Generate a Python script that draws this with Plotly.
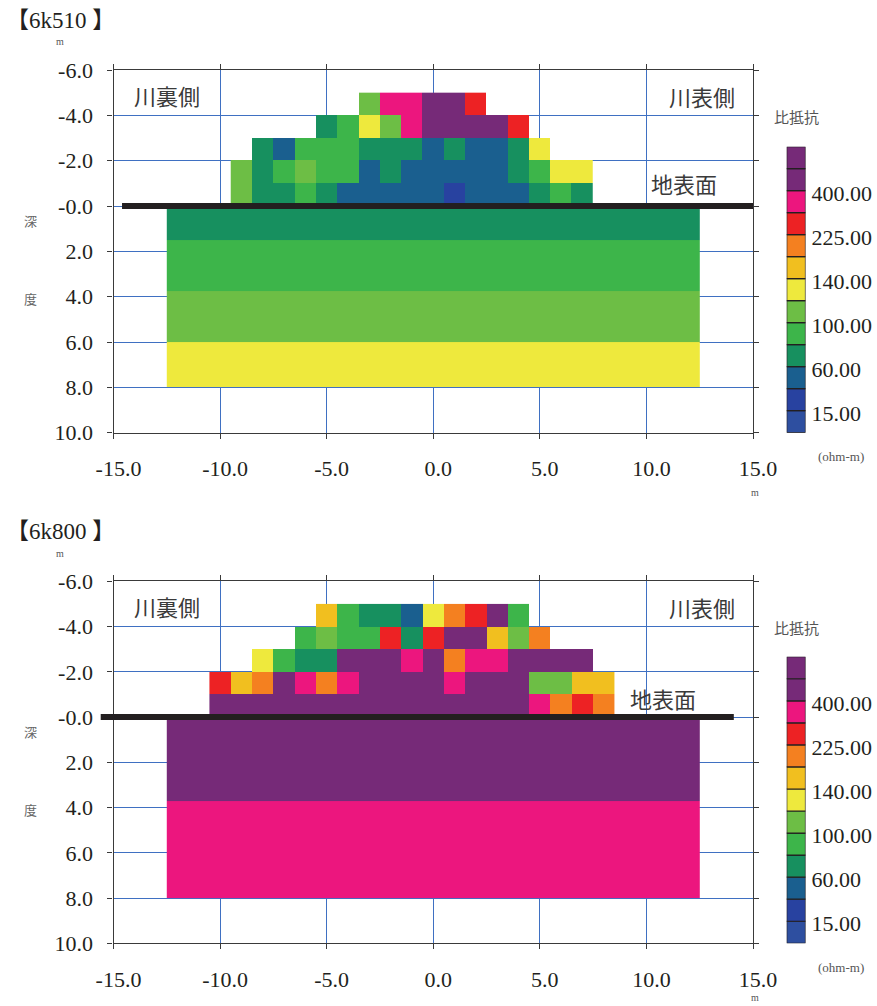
import plotly.graph_objects as go

W, H = 877, 1006

# ---- resistivity classes (bottom -> top of the legend bar) ----
CLASS_COLORS = ["#2E4FA0", "#2842A0", "#1A5F8F", "#17905F", "#3DB54A", "#6DBE45",
                "#EEE93D", "#F1BF1F", "#F48020", "#ED2224", "#EC167E", "#762A78", "#762A78"]
CBAR_LABELS = ["15.00", "60.00", "100.00", "140.00", "225.00", "400.00"]
CBAR_LABEL_AT = [1, 3, 5, 7, 9, 11]   # class boundary index of each label

X_TICKS = [-15, -10, -5, 0, 5, 10, 15]
X_TICK_TEXT = ["-15.0", "-10.0", "-5.0", "0.0", "5.0", "10.0", "15.0"]
Y_TICKS = [-6, -4, -2, 0, 2, 4, 6, 8, 10]
Y_TICK_TEXT = ["-6.0", "-4.0", "-2.0", "-0.0", "2.0", "4.0", "6.0", "8.0", "10.0"]
X_RANGE = [-15, 15]
Y_RANGE = [10, -6]

N = None
# ---- 6k510 ----
A_TITLE = "【6k510 】"
A_EMB_X = [-9.5, -8.5, -7.5, -6.5, -5.5, -4.5, -3.5, -2.5, -1.5, -0.5,
           0.5, 1.5, 2.5, 3.5, 4.5, 5.5, 6.5, 7.5]
A_EMB_Y = [-5, -4, -3, -2, -1, 0]
A_EMB_Z = [
    [N, N, N, N, N, N, 5, 10, 10, 11, 11, 9, N, N, N, N, N],
    [N, N, N, N, 3, 4, 6, 5, 10, 11, 11, 11, 11, 9, N, N, N],
    [N, 3, 2, 4, 4, 4, 3, 3, 3, 2, 3, 2, 2, 3, 6, N, N],
    [5, 3, 4, 5, 4, 4, 2, 3, 2, 2, 2, 2, 2, 3, 4, 6, 6],
    [5, 3, 3, 4, 3, 2, 2, 2, 2, 2, 1, 2, 2, 2, 3, 4, 3],
]
A_SUB_X = [-12.5, 12.5]
A_SUB_Y = [0, 1.5, 3.75, 6, 8]
A_SUB_Z = [[3], [4], [5], [6]]
A_GROUND = [-14.6, 15.0]

# ---- 6k800 ----
B_TITLE = "【6k800 】"
B_EMB_X = [-10.5, -9.5, -8.5, -7.5, -6.5, -5.5, -4.5, -3.5, -2.5, -1.5, -0.5,
           0.5, 1.5, 2.5, 3.5, 4.5, 5.5, 6.5, 7.5, 8.5]
B_EMB_Y = [-5, -4, -3, -2, -1, 0]
B_EMB_Z = [
    [N, N, N, N, N, 7, 4, 3, 3, 2, 6, 8, 9, 11, 4, N, N, N, N],
    [N, N, N, N, 4, 5, 4, 4, 9, 3, 9, 11, 11, 7, 5, 8, N, N, N],
    [N, N, 6, 4, 3, 3, 11, 11, 11, 10, 11, 8, 10, 10, 11, 11, 11, 11, N],
    [9, 7, 8, 11, 10, 8, 10, 11, 11, 11, 11, 10, 11, 11, 11, 5, 5, 7, 7],
    [11, 11, 11, 11, 11, 11, 11, 11, 11, 11, 11, 11, 11, 11, 11, 10, 8, 9, 8],
]
B_SUB_X = [-12.5, 12.5]
B_SUB_Y = [0, 3.7, 8]
B_SUB_Z = [[11], [10]]
B_GROUND = [-15.6, 14.1]

# ---------------------------------------------------------------
def px(x, y):
    return x / W, 1 - y / H

nC = len(CLASS_COLORS)
colorscale = []
for k, c in enumerate(CLASS_COLORS):
    colorscale.append([k / nC, c])
    colorscale.append([(k + 1) / nC, c])

SERIF = "Liberation Serif"
JP = "Noto Sans CJK JP"
GRID = "#3F70C2"
AXL = "#3A3A3A"
TXT = "#231F20"

fig = go.Figure()


def add_heat(x, y, z, xa, ya):
    fig.add_trace(go.Heatmap(x=x, y=y, z=z, colorscale=colorscale, zmin=-0.5, zmax=nC - 0.5,
                             showscale=False, hoverinfo="skip", xaxis=xa, yaxis=ya))


add_heat(A_SUB_X, A_SUB_Y, A_SUB_Z, "x", "y")
add_heat(A_EMB_X, A_EMB_Y, A_EMB_Z, "x", "y")
add_heat(B_SUB_X, B_SUB_Y, B_SUB_Z, "x2", "y2")
add_heat(B_EMB_X, B_EMB_Y, B_EMB_Z, "x2", "y2")

# legend bars
for xa, ya in (("x3", "y3"), ("x4", "y4")):
    fig.add_trace(go.Bar(x=[0] * nC, y=[1] * nC, base=list(range(nC)), width=1,
                         marker=dict(color=CLASS_COLORS, line=dict(color="#231F20", width=1.2)),
                         hoverinfo="skip", showlegend=False, xaxis=xa, yaxis=ya))

main_dom_x = [113.5 / W, 753 / W]
top_dom_y = [1 - 432.7 / H, 1 - 70 / H]
bot_dom_y = [1 - 943.3 / H, 1 - 581.3 / H]
cb_dom_x = [786.7 / W, 805.5 / W]
cb_top_y = [1 - 432.7 / H, 1 - 146.7 / H]
cb_bot_y = [1 - 943.3 / H, 1 - 656.7 / H]

xax = dict(range=X_RANGE, tickvals=X_TICKS, ticktext=X_TICK_TEXT, showgrid=True,
           gridcolor=GRID, gridwidth=1, zeroline=False, showline=True, linecolor=AXL,
           linewidth=1.3, mirror="ticks", ticks="outside", ticklen=5, tickcolor=AXL,
           tickfont=dict(family=SERIF, size=22, color=TXT), ticklabelstandoff=11,
           ticklabelshift=5, domain=main_dom_x, automargin=False)
yax = dict(range=Y_RANGE, tickvals=Y_TICKS, ticktext=Y_TICK_TEXT, showgrid=True,
           gridcolor=GRID, gridwidth=1, zeroline=False, showline=True, linecolor=AXL,
           linewidth=1.3, mirror="ticks", ticks="outside", ticklen=5, tickcolor=AXL,
           tickfont=dict(family=SERIF, size=22, color=TXT), ticklabelstandoff=10,
           automargin=False)
cbx = dict(range=[-0.5, 0.5], visible=False, domain=cb_dom_x, fixedrange=True, automargin=False)
cby = dict(range=[0, nC], side="right", showgrid=False, zeroline=False, showline=False,
           ticks="", tickvals=[v - 0.1 for v in CBAR_LABEL_AT], ticktext=CBAR_LABELS,
           tickfont=dict(family=SERIF, size=22, color=TXT), ticklabelstandoff=5,
           automargin=False)

fig.update_layout(
    width=W, height=H, margin=dict(l=0, r=0, t=0, b=0, pad=0, autoexpand=False),
    paper_bgcolor="white", plot_bgcolor="white", showlegend=False, barmode="overlay",
    xaxis=dict(xax, anchor="y"),
    yaxis=dict(yax, domain=top_dom_y, anchor="x"),
    xaxis2=dict(xax, anchor="y2"),
    yaxis2=dict(yax, domain=bot_dom_y, anchor="x2"),
    xaxis3=dict(cbx, anchor="y3"),
    yaxis3=dict(cby, domain=cb_top_y, anchor="x3"),
    xaxis4=dict(cbx, anchor="y4"),
    yaxis4=dict(cby, domain=cb_bot_y, anchor="x4"),
)

# ground surface lines
for g, xr, yr in ((A_GROUND, "x", "y"), (B_GROUND, "x2", "y2")):
    f0 = (g[0] - X_RANGE[0]) / (X_RANGE[1] - X_RANGE[0])
    f1 = (g[1] - X_RANGE[0]) / (X_RANGE[1] - X_RANGE[0])
    fig.add_shape(type="line", xref=xr + " domain", yref=yr, x0=f0, x1=f1, y0=0, y1=0,
                  line=dict(color="#231F20", width=6), layer="above")

ann = []


def text(t, x, y, size, color=TXT, family=JP, xanchor="center", xref="paper", yref="paper"):
    ann.append(dict(text=t, x=x, y=y, xref=xref, yref=yref, showarrow=False,
                    xanchor=xanchor, yanchor="middle",
                    font=dict(family=family, size=size, color=color)))


for (title, ty, xr, yr, dy, gx, gy) in (
        (A_TITLE, 20, "x", "y", 0, 11.76, -1.0),
        (B_TITLE, 531, "x2", "y2", 511, 10.77, -0.86)):
    tx, tyy = px(4, ty)
    text(title, tx, tyy, 23, family="Liberation Serif, Noto Sans CJK JP", xanchor="left")
    text("m", *px(60, 42 + dy), 10, color="#555", family=SERIF)
    text("深", *px(31, 220 + dy), 13, color="#666")
    text("度", *px(31, 298 + dy), 13, color="#666")
    text("m", *px(755, min(492 + dy, 997)), 10, color="#555", family=SERIF)
    text("比抵抗", *px(796, 116 + dy), 15, color="#555")
    text("(ohm-m)", *px(841, 456 + dy), 13, color="#555", family=SERIF)
    text("川裏側", -12.5, -4.9, 22, color="#3A3A3A", xref=xr, yref=yr)
    text("川表側", 12.6, -4.85, 22, color="#3A3A3A", xref=xr, yref=yr)
    text("地表面", gx, gy, 22, color="#3A3A3A", xref=xr, yref=yr)

fig.update_layout(annotations=ann)
fig.write_html("out.html", config={"displayModeBar": False},
               post_script="document.body.style.margin='0';")
